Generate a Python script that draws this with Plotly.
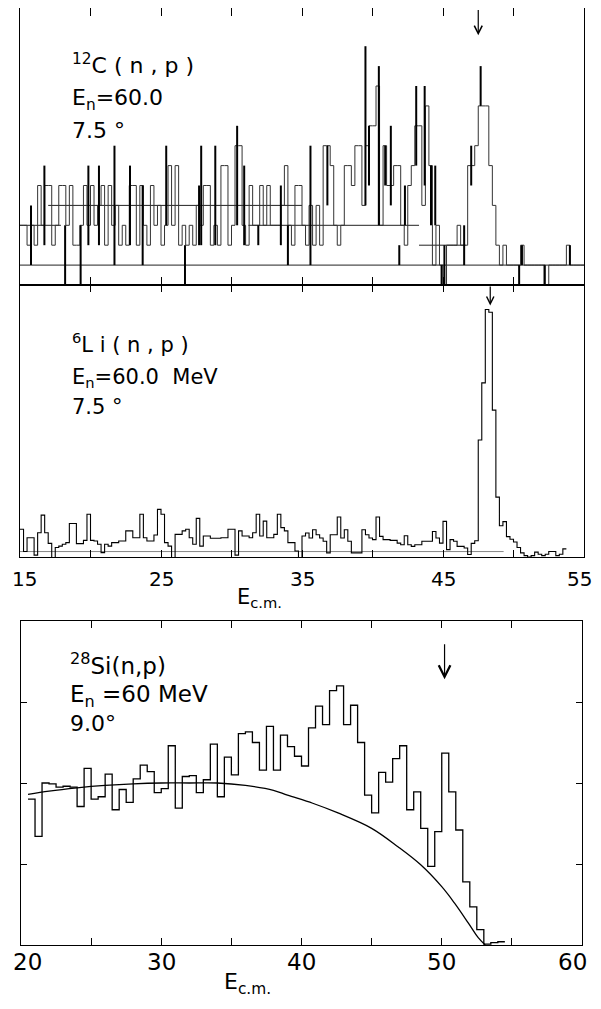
import plotly.graph_objects as go

W, H = 601, 1009
OFF = 8  # page body margin in the browser

# ---------------- 12C(n,p) panel (counts per channel) ----------------
c12_bin_start = 15.0
c12_bin_width = 0.25
c12_counts = [
    3, 3, 2, 3, 2, 5, 3, 5, 5, 2, 3, 5, 5, 3, 5, 2, 2, 3, 5, 3,
    5, 3, 4, 5, 2, 5, 3, 4, 2, 3, 2, 5, 5, 2, 5, 3, 2, 5, 3, 4,
    2, 3, 6, 3, 6, 2, 3, 2, 3, 2, 4, 3, 5, 5, 2, 3, 2, 6, 6, 2,
    3, 7, 7, 3, 2, 5, 3, 3, 5, 3, 5, 3, 3, 3, 4, 6, 3, 2, 5, 5,
    3, 2, 4, 2, 4, 2, 7, 7, 6, 3, 2, 3, 6, 6, 5, 7, 7, 4, 7, 8,
    8, 10, 3, 7, 5, 5, 6, 6, 3, 2, 5, 6, 8, 8, 4, 9, 6, 1, 3, 1,
    0, 2, 2, 2, 3, 2, 2, 6, 6, 7, 9, 9, 9, 6, 4, 2, 1, 2, 1, 1,
    1, 1, 2, 1, 1, 1, 1, 1, 1, 0, 1, 1, 1, 1, 1, 2, 1, 1, 1, 1,
]
# narrow (single-channel) spikes: position, low count, high count
c12_spike_x = [15.78, 16.73, 18.2, 19.3, 19.85, 20.6, 21.7, 22.8, 23.7, 25.37,
               26.7, 27.7, 27.85, 28.85, 30.4, 30.9, 31.9, 33.5, 34.0, 35.6,
               36.8, 39.5, 39.75, 40.45, 40.9, 41.3, 41.9, 42.3, 43.1, 43.7,
               44.15, 44.45, 44.9, 45.1, 46.5, 47.0, 47.67, 50.4, 50.6, 52.2, 54.0]
c12_spike_lo = [1, 2, 0, 0, 2, 2, 1, 2, 1, 3,
                0, 2, 2, 2, 3, 2, 2, 2, 1, 1,
                4, 4, 5, 3, 5, 4, 1, 3, 6, 5,
                3, 3, 0, 0, 1, 5, 9, 0, 1, 0, 1]
c12_spike_hi = [4, 6, 3, 3, 6, 6, 7, 6, 5, 7,
                2, 5, 7, 7, 8, 6, 3, 5, 3, 7,
                7, 12, 8, 11, 7, 8, 2, 5, 10, 10,
                6, 6, 1, 2, 3, 7, 11, 1, 2, 1, 2]
# wide-channel levels of the overlaid coarse spectra
c12_level_x0 = [15.0, 15.0, 31.2, 43.3, 17.0]
c12_level_x1 = [55.0, 17.9, 43.3, 46.6, 35.0]
c12_level_y = [1, 3, 3, 2, 4]
c12_arrow_x, c12_arrow_tip, c12_arrow_tail = 47.5, 12.55, 13.9

# ---------------- 6Li(n,p) panel ----------------
li_bin_start = 15.0
li_bin_width = 0.25
li_counts = [
    1.02, 0.20, 0.71, 0.71, 0.07, 0.89, 1.54, 0.89, 0.50, -0.05,
    0.35, 0.40, 0.47, 0.53, 1.23, 1.23, 0.49, 0.49, 0.61, 1.57,
    0.61, 0.59, 0.47, 0.16, 0.47, 0.40, 0.53, 0.53, 0.59, 0.59,
    0.96, 0.96, 0.71, 0.71, 1.57, 0.71, 0.59, 0.59, 0.81, 1.75,
    1.57, 0.53, 0.40, -0.09, 0.83, 0.83, 0.96, 1.02, 0.71, 0.47,
    1.42, 0.40, 0.77, 0.77, 0.69, 0.69, 0.69, 0.71, 0.71, 1.02,
    1.02, 0.07, 0.96, 0.77, 0.77, 0.71, 0.89, 1.57, 0.77, 1.32,
    0.71, 0.71, 0.83, 1.57, 1.08, 0.96, 0.53, 0.53, 0.22, -0.09,
    0.77, 0.88, 0.70, 1.00, 0.82, 0.70, 0.58, 0.15, 0.82, 0.82,
    1.47, 0.70, 1.00, 0.58, 0.15, 0.15, 0.15, 1.00, 0.82, 0.70,
    0.64, 1.47, 0.76, 0.64, 0.64, 0.61, 0.61, 0.51, 0.45, 0.78,
    0.45, 0.39, 0.45, 0.45, 0.58, 0.58, 0.58, 0.94, 0.70, 0.51,
    1.31, 0.27, 0.64, 0.58, 0.39, 0.39, 0.33, 0.09, 0.50, 0.60,
    4.30, 6.40, 9.10, 9.00, 5.40, 2.20, 1.15, 1.30, 0.75, 0.65,
    0.55, 0.35, 0.15, 0.05, 0.00, 0.05, 0.18, 0.10, 0.05, 0.10,
    0.20, 0.20, 0.05, 0.10, 0.30,
]
li_base_x = [15.0, 49.3]
li_base_y = [0.2, 0.2]
li_arrow_x, li_arrow_tip, li_arrow_tail = 48.35, 9.25, 10.0
li_tick_labels = [15, 25, 35, 45, 55]

# ---------------- 28Si(n,p) panel ----------------
si_bin_start = 20.5
si_bin_width = 0.5
si_counts = [
    1.80, 1.34, 2.00, 1.99, 1.95, 1.96, 1.95, 1.71, 2.18, 1.80,
    1.83, 2.11, 1.67, 1.92, 1.76, 2.05, 2.22, 2.14, 1.88, 1.93,
    2.46, 1.69, 2.08, 2.09, 1.88, 2.04, 2.48, 1.83, 2.32, 2.10,
    2.61, 2.63, 2.50, 2.16, 2.70, 2.16, 2.59, 2.45, 2.33, 2.21,
    2.68, 2.95, 2.72, 3.14, 3.20, 2.72, 2.96, 2.50, 1.85, 1.63,
    2.13, 2.01, 2.30, 2.46, 1.67, 1.89, 1.44, 0.97, 1.40, 2.37,
    1.89, 1.42, 0.78, 0.47, 0.19, 0.01, 0.03, 0.04,
]
si_curve_x = [20.5, 22, 24, 26, 28, 30, 32, 34, 36, 38, 39, 40.8, 42.6, 45,
              46.9, 48.5, 50, 50.9, 51.9, 52.6, 53.1]
si_curve_y = [1.86, 1.90, 1.94, 1.97, 1.99, 2.00, 2.00, 2.00, 1.97, 1.91, 1.85,
              1.75, 1.63, 1.44, 1.21, 0.99, 0.72, 0.52, 0.27, 0.09, 0.0]
si_arrow_x, si_arrow_tip, si_arrow_tail = 50.2, 3.28, 3.73
si_tick_labels = [20, 30, 40, 50, 60]

FONT = "DejaVu Sans"
FW, FH = W - 2 * OFF, H - 2 * OFF


def step_xy(start, width, vals):
    xs = [start + i * width for i in range(len(vals) + 1)]
    ys = list(vals) + [vals[-1]]
    return xs, ys


def px(x):
    return (x - OFF) / FW


def py(y):
    return 1 - (y - OFF) / FH


fig = go.Figure()

# --- panel 1 ---
sx, sy = [], []
for x0, x1, yv in zip(c12_level_x0, c12_level_x1, c12_level_y):
    sx += [x0, x1, None]
    sy += [yv, yv, None]
fig.add_trace(go.Scatter(x=sx, y=sy, mode="lines", line=dict(color="#222", width=1),
                         xaxis="x", yaxis="y", hoverinfo="skip"))
hx, hy = step_xy(c12_bin_start, c12_bin_width, c12_counts)
fig.add_trace(go.Scatter(x=hx, y=hy, mode="lines", line=dict(color="#333", width=1, shape="hv"),
                         xaxis="x", yaxis="y"))
kx, ky = [], []
for x, lo, hi in zip(c12_spike_x, c12_spike_lo, c12_spike_hi):
    kx += [x, x, None]
    ky += [lo, hi, None]
fig.add_trace(go.Scatter(x=kx, y=ky, mode="lines", line=dict(color="black", width=2),
                         xaxis="x", yaxis="y"))

# --- panel 2 ---
fig.add_trace(go.Scatter(x=li_base_x, y=li_base_y, mode="lines", line=dict(color="#888", width=1),
                         xaxis="x2", yaxis="y2"))
lx, ly = step_xy(li_bin_start, li_bin_width, li_counts)
fig.add_trace(go.Scatter(x=lx, y=ly, mode="lines", line=dict(color="black", width=1.1, shape="hv"),
                         xaxis="x2", yaxis="y2"))

# --- panel 3 ---
tx, ty = step_xy(si_bin_start, si_bin_width, si_counts)
fig.add_trace(go.Scatter(x=tx, y=ty, mode="lines", line=dict(color="black", width=1.3, shape="hv"),
                         xaxis="x3", yaxis="y3"))
fig.add_trace(go.Scatter(x=si_curve_x, y=si_curve_y, mode="lines",
                         line=dict(color="black", width=1.3, shape="spline", smoothing=1.0),
                         xaxis="x3", yaxis="y3"))

axis_common = dict(showline=True, linecolor="black", linewidth=1.3, mirror="ticks",
                   ticks="inside", tickcolor="black", showgrid=False, zeroline=False,
                   showticklabels=False, automargin=False)

x12 = [px(20), px(584)]
x3 = [px(21), px(582)]

fig.update_layout(
    width=FW, height=FH, margin=dict(l=0, r=0, t=0, b=0, pad=0, autoexpand=False),
    paper_bgcolor="white", plot_bgcolor="white", showlegend=False,
    font=dict(family=FONT, color="black"),
    xaxis=dict(domain=x12, range=[15, 55], anchor="y", tickvals=list(range(15, 56, 5)),
               ticklen=8, **axis_common),
    yaxis=dict(domain=[py(285), py(8)], range=[0, 13.92], anchor="x", showticklabels=False,
               showline=True, linecolor="black", linewidth=1.3, mirror=True, ticks="",
               showgrid=False, zeroline=False),
    xaxis2=dict(domain=x12, range=[15, 55], anchor="y2", tickvals=list(range(15, 56, 5)),
                ticklen=7, **axis_common),
    yaxis2=dict(domain=[py(557), py(285)], range=[0, 10], anchor="x2", showticklabels=False,
                showline=True, linecolor="black", linewidth=1.3, mirror=True, ticks="",
                showgrid=False, zeroline=False),
    xaxis3=dict(domain=x3, range=[20, 60], anchor="y3", tickvals=list(range(20, 61, 5)),
                ticklen=7, **axis_common),
    yaxis3=dict(domain=[py(945), py(621)], range=[0, 4], anchor="x3", tickvals=[1, 2, 3],
                ticklen=6, **axis_common),
)

ann = []


def label(text, x, y, size, xanchor="left"):
    ann.append(dict(text=text, x=px(x), y=py(y), xref="paper", yref="paper",
                    xanchor=xanchor, yanchor="middle", showarrow=False,
                    font=dict(size=size, family=FONT, color="black")))


label("<sup>12</sup>C ( n , p )", 70, 64, 22)
label("E<sub>n</sub>=60.0", 70, 100, 22)
label("7.5 °", 70, 131, 22)
label("<sup>6</sup>L i ( n , p )", 70, 343, 21)
label("E<sub>n</sub>=60.0  MeV", 70, 378, 21)
label("7.5 °", 70, 407, 21)
label("<sup>28</sup>Si(n,p)", 68, 664, 23)
label("E<sub>n</sub> =60 MeV", 68, 696, 23)
label("9.0°", 68, 723, 22)
label("E<sub>c.m.</sub>", 235, 598, 21)
label("E<sub>c.m.</sub>", 222, 983, 22)

# small pixel nudges keep the end labels inside the frame, as in the original
edge_shift = {0: 4, 4: -5}
for i, v in enumerate(li_tick_labels):
    ann.append(dict(text=str(v), x=v, y=py(579), xref="x2", yref="paper", xanchor="center",
                    yanchor="middle", showarrow=False, xshift=edge_shift.get(i, 0),
                    font=dict(size=20, family=FONT, color="black")))
edge_shift3 = {0: 6, 4: -10}
for i, v in enumerate(si_tick_labels):
    ann.append(dict(text=str(v), x=v, y=py(962), xref="x3", yref="paper", xanchor="center",
                    yanchor="middle", showarrow=False, xshift=edge_shift3.get(i, 0),
                    font=dict(size=23, family=FONT, color="black")))

for xr, yr, xv, tip, tail, size in [("x", "y", c12_arrow_x, c12_arrow_tip, c12_arrow_tail, 1.3),
                                    ("x2", "y2", li_arrow_x, li_arrow_tip, li_arrow_tail, 1.2),
                                    ("x3", "y3", si_arrow_x, si_arrow_tip, si_arrow_tail, 1.9)]:
    ann.append(dict(x=xv, y=tip, ax=xv, ay=tail, xref=xr, yref=yr, axref=xr, ayref=yr,
                    showarrow=True, arrowhead=5, arrowsize=size, arrowwidth=1.2,
                    arrowcolor="black", text=""))

fig.update_layout(annotations=ann)
fig.write_html("out.html")
